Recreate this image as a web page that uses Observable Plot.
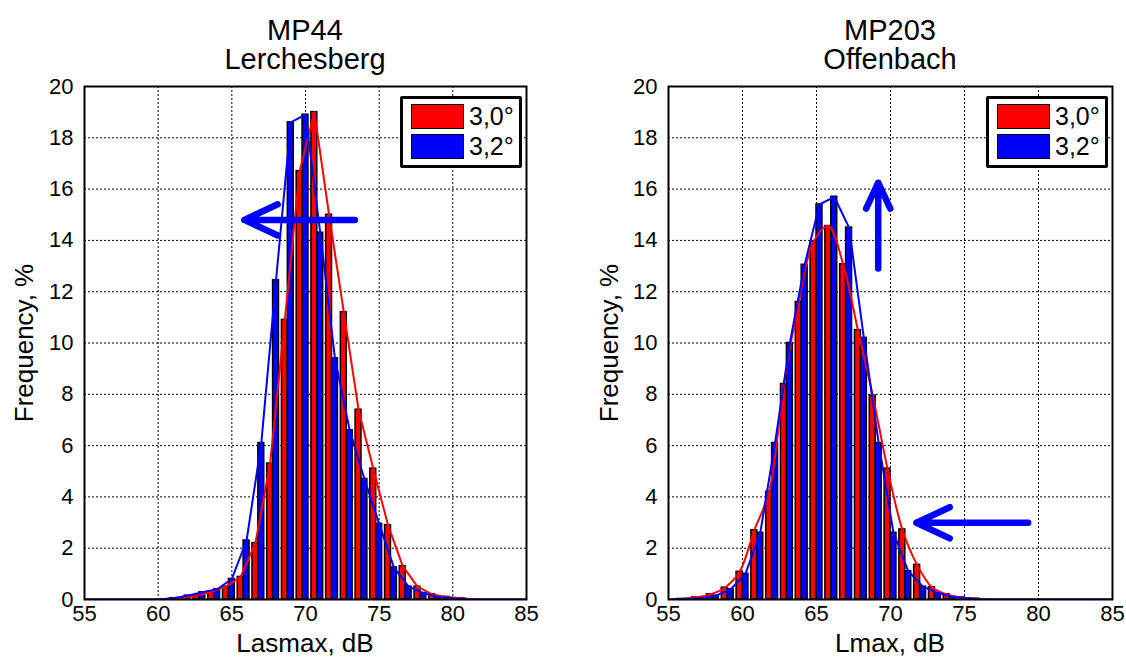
<!DOCTYPE html>
<html><head><meta charset="utf-8">
<script src="https://cdn.jsdelivr.net/npm/d3@7"></script>
<script src="https://cdn.jsdelivr.net/npm/@observablehq/plot@0.6"></script>
<style>
body{margin:0;background:#fff;font-family:"Liberation Sans",Arial,sans-serif;}
#wrap{position:relative;width:1126px;height:659px;overflow:hidden;background:#fff;}
.chart{position:absolute;top:0;}
.t{position:absolute;white-space:nowrap;color:#000;transform:translate(-50%,-50%);line-height:0.9;}
.legend{position:absolute;border:3px solid #000;background:#fff;box-sizing:border-box;border-radius:2px;}
.sw{position:absolute;border:1px solid #000;box-sizing:border-box;}
.lt{position:absolute;font-size:25px;line-height:1;}
</style></head><body><div id="wrap"></div>
<script>
// Bin centres (dB) shared by both histograms
const dB = [55,56,57,58,59,60,61,62,63,64,65,66,67,68,69,70,71,72,73,74,75,76,77,78,79,80,81,82,83,84,85];

// MP44 Lerchesberg (Lasmax) — frequency %, 3,0° (red) and 3,2° (blue)
const lerchRed  = [0,0,0,0,0,0,0,0.05,0.15,0.3,0.5,0.88,2.2,5.3,10.9,16.7,19.0,15.0,11.2,7.4,5.1,2.9,1.3,0.5,0.2,0.1,0.05,0,0,0,0];
const lerchBlue = [0,0,0,0,0,0,0.05,0.15,0.28,0.4,0.8,2.3,6.1,12.45,18.6,18.9,14.3,9.4,6.6,4.7,2.95,1.25,0.5,0.25,0.1,0.05,0,0,0,0,0];

// MP203 Offenbach (Lmax)
const offRed  = [0,0.02,0.08,0.2,0.46,1.08,2.7,4.2,8.4,11.6,13.95,14.56,13.07,10.5,7.95,5.1,2.73,1.35,0.48,0.2,0.08,0.03,0,0,0,0,0,0,0,0,0];
const offBlue = [0,0.02,0.05,0.15,0.4,1.0,2.6,6.1,10.0,13.05,15.4,15.7,14.5,10.2,6.1,2.6,1.1,0.5,0.25,0.1,0.05,0,0,0,0,0,0,0,0,0,0];

const xTicks = [55,60,65,70,75,80,85];
const yTicks = [0,2,4,6,8,10,12,14,16,18,20];
const seriesLabels = ["3,0°","3,2°"];
const seriesColors = ["#ff0000","#0000ff"];

// Blue annotation arrows (data coordinates: dB, %)
const lerchArrows = [{x1:73.35, y1:14.8, x2:65.85, y2:14.8}];
const offArrows = [{x1:69.17, y1:12.9, x2:69.17, y2:16.25},{x1:79.3, y1:2.99, x2:71.75, y2:2.99}];

function chart({red, blue, shift, arrows, smoothRed, marginLeft, marginRight}) {
  const rows = dB.map((d,i)=>({d, red:red[i], blue:blue[i]}));
  const w = 0.4;
  return Plot.plot({
    width: 563, height: 659,
    marginLeft, marginRight, marginTop: 86, marginBottom: 60,
    x: {domain:[55,85]},
    y: {domain:[0,20]},
    style: {fontFamily:'"Liberation Sans", Arial, sans-serif', fontSize:"22px", color:"#000", background:"#fff", overflow:"visible"},
    marks: [
      Plot.gridX(xTicks.slice(1,-1), {stroke:"#000", strokeOpacity:1, strokeWidth:1, strokeDasharray:"2,2"}),
      Plot.gridY(yTicks.slice(1,-1), {stroke:"#000", strokeOpacity:1, strokeWidth:1, strokeDasharray:"2,2"}),
      Plot.rect(rows.filter(r=>r.red>0), {x1:r=>r.d+shift-w, x2:r=>r.d+shift, y1:0, y2:"red", fill:seriesColors[0], stroke:"#000", strokeWidth:1.5}),
      Plot.rect(rows.filter(r=>r.blue>0), {x1:r=>r.d+shift, x2:r=>r.d+shift+w, y1:0, y2:"blue", fill:seriesColors[1], stroke:"#000", strokeWidth:1.5}),
      Plot.line(rows, {x:r=>r.d+shift-w/2, y:"red", stroke:seriesColors[0], strokeWidth:2, curve: smoothRed ? "catmull-rom" : "linear", clip:true}),
      Plot.line(rows, {x:r=>r.d+shift+w/2, y:"blue", stroke:seriesColors[1], strokeWidth:2, clip:true}),
      Plot.frame({stroke:"#000", strokeWidth:2}),
      Plot.axisX(xTicks, {tickSize:0, tickPadding:6, label:null, fontSize:22}),
      Plot.axisY(yTicks, {tickSize:0, tickPadding:11, label:null, fontSize:22}),
      Plot.arrow(arrows, {x1:"x1", y1:"y1", x2:"x2", y2:"y2", stroke:"#0000ff", strokeWidth:6.5, headLength:8.5, headAngle:50})
    ]
  });
}

const wrap = document.getElementById("wrap");
function place(el, left){ const d=document.createElement("div"); d.className="chart"; d.style.left=left+"px"; d.appendChild(el); wrap.appendChild(d); }

place(chart({red:lerchRed, blue:lerchBlue, shift:-0.2, arrows:lerchArrows, smoothRed:false, marginLeft:84, marginRight:37}), 0);
place(chart({red:offRed, blue:offBlue, shift:0, arrows:offArrows, smoothRed:true, marginLeft:105, marginRight:14}), 563);

function text(str, x, y, size, rot){
  const d=document.createElement("div"); d.className="t"; d.textContent=str;
  d.style.left=x+"px"; d.style.top=y+"px"; d.style.fontSize=size+"px";
  if (rot) d.style.transform="translate(-50%,-50%) rotate(-90deg)";
  wrap.appendChild(d);
}
text("MP44", 305, 30, 29); text("Lerchesberg", 305, 59, 29);
text("MP203", 890, 30, 29); text("Offenbach", 890, 59, 29);
text("Lasmax, dB", 305, 644, 26); text("Lmax, dB", 890, 644, 26);
text("Frequency, %", 25, 343, 26, true); text("Frequency, %", 610, 343, 26, true);

function legend(left){
  const L=document.createElement("div"); L.className="legend";
  Object.assign(L.style,{left:left+"px", top:"96px", width:"122px", height:"72px"});
  seriesLabels.forEach((lab,i)=>{
    const s=document.createElement("div"); s.className="sw";
    Object.assign(s.style,{left:"8px", top:(5+i*30)+"px", width:"53px", height:"25px", background:seriesColors[i]});
    L.appendChild(s);
    const t=document.createElement("div"); t.className="lt"; t.textContent=lab;
    Object.assign(t.style,{left:"66px", top:(5+i*30)+"px"});
    L.appendChild(t);
  });
  wrap.appendChild(L);
}
legend(400); legend(986);
</script></body></html>
